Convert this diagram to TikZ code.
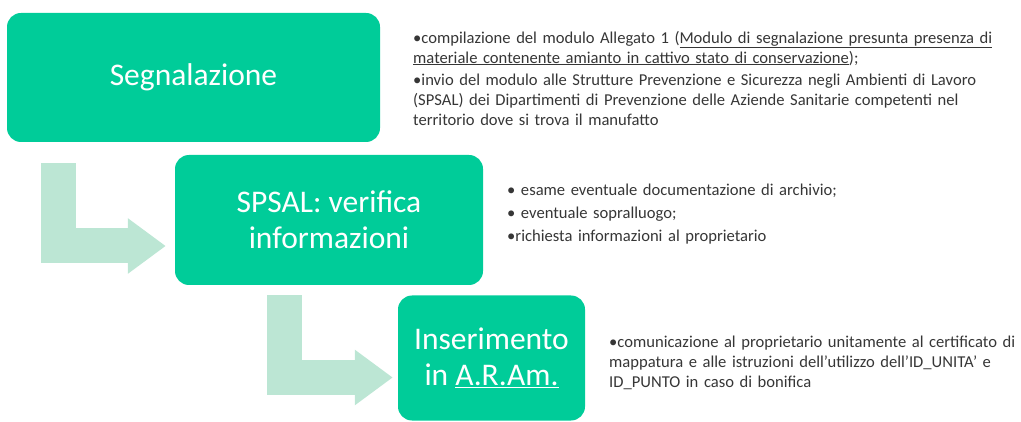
\documentclass[tikz,border=0pt]{standalone}
\usepackage{fontspec}
\setmainfont{Carlito}
\usetikzlibrary{arrows.meta}
\definecolor{boxgreen}{HTML}{00CC99}
\definecolor{arrowgreen}{HTML}{BCE6D4}
\definecolor{notegray}{HTML}{363636}
\newcommand{\itm}[1]{\setbox0\hbox{\textbullet}\hangindent=\wd0 \hangafter=1 \noindent\box0 #1\par}
\begin{document}
\begin{tikzpicture}[x=1pt,y=-1pt,line cap=butt,
  box/.style={fill=boxgreen,rounded corners=14pt,text=white,align=center,inner sep=0,font=\fontsize{31.5}{36}\selectfont},
  note/.style={anchor=north west,inner sep=0,text=notegray,align=left,font=\fontsize{16.6}{19.7}\selectfont},
  bentarrow/.style={draw=arrowgreen,line width=35pt,-{Triangle[length=38pt,width=53pt]}}]
\useasboundingbox (0,0) rectangle (1021,422);
\node[box,minimum width=373pt,minimum height=129pt] (seg) at (193.5,77.5) {Segnalazione};
\node[box,minimum width=308pt,minimum height=130pt] (spsal) at (329,220) {SPSAL: verifica\\informazioni};
\node[box,minimum width=187pt,minimum height=125pt] (aram) at (491.5,358) {Inserimento\\in \underline{A.R.Am.}};
\draw[bentarrow] ([shift={(51.5,21)}]seg.south west) |- ([shift={(-9,26)}]spsal.west);
\draw[bentarrow] ([shift={(109.5,10)}]spsal.south west) |- ([shift={(-5,19.5)}]aram.west);
\node[note,text width=610pt] (segnote) at (413,31) {%
\itm{compilazione del modulo Allegato 1 (\underline{Modulo di segnalazione presunta presenza di}\\\underline{materiale contenente amianto in cattivo stato di conservazione});}
\vspace{3pt}
\itm{invio del modulo alle Strutture Prevenzione e Sicurezza negli Ambienti di Lavoro\\(SPSAL) dei Dipartimenti di Prevenzione delle Aziende Sanitarie competenti nel\\territorio dove si trova il manufatto}};
\node[note,text width=400pt] (spsalnote) at (507,184) {%
\itm{ esame eventuale documentazione di archivio;}
\vspace{3pt}
\itm{ eventuale sopralluogo;}
\vspace{3pt}
\itm{richiesta informazioni al proprietario}};
\node[note,text width=410pt] (aramnote) at (609,336) {%
\itm{comunicazione al proprietario unitamente al certificato di\\mappatura e alle istruzioni dell’utilizzo dell’ID\_UNITA’ e\\ID\_PUNTO in caso di bonifica}};
\end{tikzpicture}
\end{document}
